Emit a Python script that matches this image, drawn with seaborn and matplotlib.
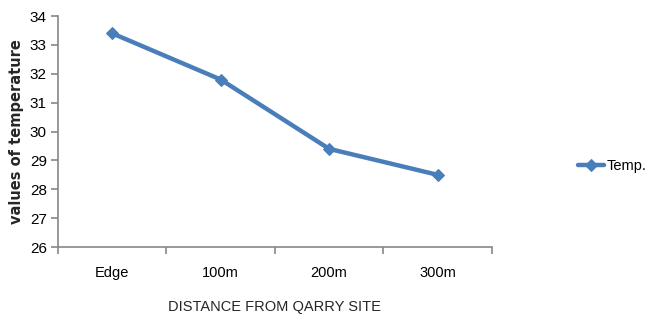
import pandas as pd
import matplotlib.pyplot as plt
import seaborn as sns

# Data
distances = ["Edge", "100m", "200m", "300m"]
temperature = [33.4, 31.8, 29.4, 28.5]
y_ticks = [26, 27, 28, 29, 30, 31, 32, 33, 34]


def main():
    df = pd.DataFrame({"Distance": distances, "Temp.": temperature})

    sns.set_style("white")
    plt.rcParams["font.family"] = ["Liberation Sans", "DejaVu Sans"]
    plt.rcParams["text.color"] = "black"
    plt.rcParams["xtick.color"] = "black"
    plt.rcParams["ytick.color"] = "black"

    fig = plt.figure(figsize=(6.48, 3.27), dpi=100)
    ax = fig.add_axes([0.0895, 0.2446, 0.6695, 0.7064])

    sns.lineplot(data=df, x="Distance", y="Temp.", ax=ax, color="#4a7ebb",
                 linewidth=3.2, marker="D", markersize=6.5, markeredgecolor="#4a7ebb",
                 label="Temp.", sort=False)

    ax.set_xlim(-0.5, 3.5)
    ax.set_ylim(26, 34)
    ax.set_yticks(y_ticks)
    ax.set_xticks(range(len(distances)))
    ax.set_xticklabels(distances)
    ax.set_xticks([-0.5, 0.5, 1.5, 2.5, 3.5], minor=True)
    ax.tick_params(axis="x", which="major", bottom=False, length=0, pad=14, labelsize=10.5)
    ax.tick_params(axis="x", which="minor", bottom=True, length=5, width=1.2,
                   color="#888888", direction="out")
    ax.tick_params(axis="y", left=True, length=5, width=1.2, color="#888888",
                   labelcolor="black", direction="out", labelsize=11, pad=3)

    for side in ["top", "right"]:
        ax.spines[side].set_visible(False)
    for side in ["left", "bottom"]:
        ax.spines[side].set_color("#888888")
        ax.spines[side].set_linewidth(1.2)

    ax.set_xlabel("DISTANCE FROM QARRY SITE", fontsize=10.5, labelpad=14)
    ax.set_ylabel("values of temperature", fontsize=10.5, fontweight="bold",
                  family=["DejaVu Sans"], labelpad=4)

    ax.legend(loc="center left", bbox_to_anchor=(1.175, 0.35), frameon=False,
              fontsize=10.5, handlelength=1.8, handletextpad=0.15, borderpad=0.2)

    fig.savefig("out.png", dpi=100)


if __name__ == "__main__":
    main()
